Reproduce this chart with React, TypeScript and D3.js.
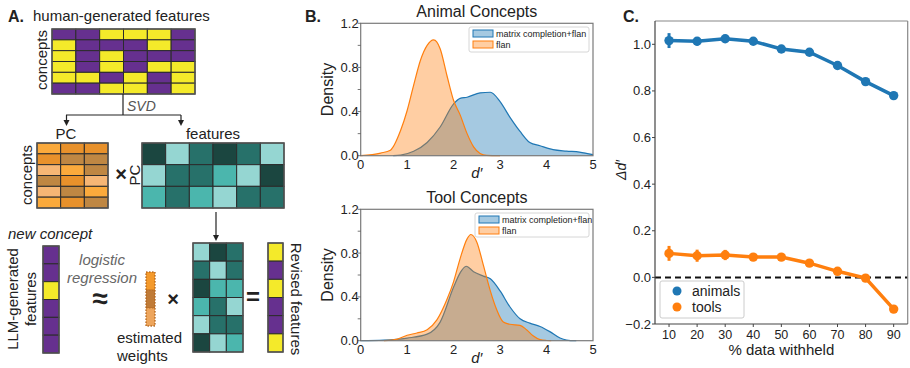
import React from "react";
import * as d3 from "d3";

// ---------- Panel A data ----------
const humanMatrix = ["PPYYYP", "YPPPYP", "YPYPPP", "YPYPYY", "YYPYPY", "PPYYPY"];
const pcMatrix = ["abb", "bcc", "dac", "cbd", "dca", "abc"];
const featMatrix = ["031013", "311230", "212311"];
const featMatrixT = ["301", "131", "022", "213", "311", "032"];
const llmColumn = ["P", "P", "Y", "P", "P", "P"];
const weightColumn = ["e", "f", "g"];
const revisedColumn = ["Y", "P", "Y", "P", "P", "Y"];

// ---------- Panel B data ----------
const animalFlanX = [0, 0.43, 0.64, 0.86, 1.0, 1.14, 1.29, 1.43, 1.57, 1.71, 1.86, 2.0, 2.14, 2.29, 2.43, 2.57, 2.71, 3.0];
const animalFlanY = [0, 0.024, 0.05, 0.23, 0.41, 0.64, 0.87, 1.0, 1.05, 0.97, 0.72, 0.5, 0.37, 0.2, 0.08, 0.02, 0.003, 0];
const animalMcX = [0.7, 0.86, 1.14, 1.43, 1.71, 2.0, 2.14, 2.29, 2.57, 2.79, 3.0, 3.21, 3.43, 3.64, 3.86, 4.14, 4.43, 4.71, 5.0];
const animalMcY = [0, 0.005, 0.04, 0.12, 0.26, 0.47, 0.52, 0.53, 0.57, 0.575, 0.49, 0.35, 0.22, 0.12, 0.09, 0.055, 0.042, 0.033, 0.01];
const toolFlanX = [0.5, 0.79, 1.0, 1.21, 1.43, 1.64, 1.86, 2.0, 2.14, 2.29, 2.37, 2.5, 2.64, 2.79, 2.93, 3.07, 3.21, 3.43, 3.57, 3.71, 3.86, 4.0, 4.1];
const toolFlanY = [0, 0.015, 0.05, 0.07, 0.1, 0.19, 0.38, 0.54, 0.75, 0.93, 0.97, 0.9, 0.69, 0.455, 0.28, 0.17, 0.15, 0.14, 0.1, 0.045, 0.01, 0.002, 0];
const toolMcX = [0, 0.5, 1.0, 1.43, 1.71, 2.0, 2.14, 2.27, 2.43, 2.64, 2.79, 3.0, 3.21, 3.43, 3.64, 3.86, 4.07, 4.29, 4.43, 4.64];
const toolMcY = [0, 0.005, 0.024, 0.06, 0.17, 0.49, 0.62, 0.68, 0.63, 0.59, 0.565, 0.455, 0.31, 0.2, 0.16, 0.13, 0.083, 0.024, 0.006, 0];
const densityTicks = [0, 0.2, 0.4, 0.6, 0.8, 1.0, 1.2];
const densityLabels = ["0.0", "", "0.4", "", "0.8", "", "1.2"];
const dTicks = [0, 1, 2, 3, 4, 5];

// ---------- Panel C data ----------
const pctWithheld = ["10", "20", "30", "40", "50", "60", "70", "80", "90"];
const animalsMean = [1.016, 1.013, 1.024, 1.013, 0.98, 0.966, 0.909, 0.84, 0.78];
const animalsErr = [0.032, 0.018, 0.014, 0.01, 0.01, 0.01, 0.01, 0.01, 0.006];
const toolsMean = [0.103, 0.093, 0.096, 0.087, 0.087, 0.061, 0.026, -0.003, -0.136];
const toolsErr = [0.032, 0.026, 0.022, 0.012, 0.012, 0.01, 0.01, 0.01, 0.01];
const deltaTicks = [-0.2, 0, 0.2, 0.4, 0.6, 0.8, 1.0];

const FONT = "'Liberation Sans', Arial, Helvetica, sans-serif";
const BLUE = "#1f77b4";
const ORANGE = "#ff7f0e";

const colorMap: Record<string, string> = {
  P: "#66308f",
  Y: "#f4ea2a",
  a: "#fbaa3c",
  b: "#e8912b",
  c: "#bf8743",
  d: "#f6b675",
  "0": "#1b4640",
  "1": "#27716a",
  "2": "#4bb6ad",
  "3": "#95d6d2",
  e: "#f49a2c",
  f: "#c07b37",
  g: "#eda55c",
};

function Matrix({ rows, x0, y0, w, h, dashed }: { rows: string[]; x0: number; y0: number; w: number; h: number; dashed?: boolean }) {
  const nr = rows.length;
  const nc = rows[0].length;
  const xs = d3.scaleBand<number>().domain(d3.range(nc)).range([x0, x0 + w]);
  const ys = d3.scaleBand<number>().domain(d3.range(nr)).range([y0, y0 + h]);
  return (
    <g>
      {rows.map((r, i) =>
        r.split("").map((c, j) => (
          <rect
            key={`${i}-${j}`}
            x={xs(j)}
            y={ys(i)}
            width={xs.bandwidth()}
            height={ys.bandwidth()}
            fill={colorMap[c]}
            stroke={dashed ? "#b0631a" : "#2b2b2b"}
            strokeWidth={dashed ? 0.8 : 1}
            strokeDasharray={dashed ? "1.5,1.5" : undefined}
          />
        ))
      )}
      <rect x={x0} y={y0} width={w} height={h} fill="none" stroke={dashed ? "#b0631a" : "#555"} strokeWidth={dashed ? 0.8 : 1.4} strokeDasharray={dashed ? "1.5,1.5" : undefined} />
    </g>
  );
}

function Arrow({ x, y1, y2 }: { x: number; y1: number; y2: number }) {
  return (
    <g>
      <line x1={x} y1={y1} x2={x} y2={y2 - 4} stroke="#222" strokeWidth={1.2} />
      <path d={`M${x - 3},${y2 - 6} L${x + 3},${y2 - 6} L${x},${y2} Z`} fill="#222" />
    </g>
  );
}

function PanelA() {
  return (
    <g fontFamily={FONT} fill="#222">
      <text x={8} y={22} fontSize={16} fontWeight="bold">A.</text>
      <text x={33} y={21} fontSize={15}>human-generated features</text>
      <text transform="translate(47,60) rotate(-90)" textAnchor="middle" fontSize={15}>concepts</text>
      <Matrix rows={humanMatrix} x0={52} y0={29} w={143} h={65} />
      {/* SVD connector */}
      <line x1={123} y1={94} x2={123} y2={115} stroke="#222" strokeWidth={1.2} />
      <line x1={66} y1={115} x2={181} y2={115} stroke="#222" strokeWidth={1.2} />
      <Arrow x={66.5} y1={115} y2={126} />
      <Arrow x={181} y1={115} y2={126} />
      <text x={127} y={111} fontSize={14} fontStyle="italic" fill="#555">SVD</text>

      <text x={66} y={139} fontSize={15} textAnchor="middle">PC</text>
      <text x={213} y={139} fontSize={15} textAnchor="middle">features</text>
      <text transform="translate(32,175) rotate(-90)" textAnchor="middle" fontSize={15}>concepts</text>
      <Matrix rows={pcMatrix} x0={37} y0={143} w={71} h={65} />
      <text x={121} y={181} fontSize={20} textAnchor="middle" fontWeight="bold">×</text>
      <text transform="translate(140,175) rotate(-90)" textAnchor="middle" fontSize={15}>PC</text>
      <Matrix rows={featMatrix} x0={142} y0={143} w={142} h={65} />
      <Arrow x={216} y1={212} y2={241} />

      <text x={8} y={239} fontSize={15} fontStyle="italic">new concept</text>
      <text transform="translate(18,299) rotate(-90)" textAnchor="middle" fontSize={15}>LLM-generated</text>
      <text transform="translate(36,299) rotate(-90)" textAnchor="middle" fontSize={15}>features</text>
      <Matrix rows={llmColumn} x0={43} y0={246} w={16} h={107} />
      <text x={102} y={265} fontSize={15} fontStyle="italic" fill="#666" textAnchor="middle">logistic</text>
      <text x={102} y={283} fontSize={15} fontStyle="italic" fill="#666" textAnchor="middle">regression</text>
      <text x={100} y={308} fontSize={28} fontWeight="bold" textAnchor="middle">≈</text>
      <Matrix rows={weightColumn} x0={146} y0={272} w={9} h={54} dashed />
      <text x={117} y={343} fontSize={15}>estimated</text>
      <text x={117} y={361} fontSize={15}>weights</text>
      <text x={173} y={306} fontSize={20} fontWeight="bold" textAnchor="middle">×</text>
      <Matrix rows={featMatrixT} x0={193} y0={243} w={50} h={109} />
      <text x={253} y={305} fontSize={24} fontWeight="bold" textAnchor="middle">=</text>
      <Matrix rows={revisedColumn} x0={268} y0={243} w={15} h={109} />
      <text transform="translate(291,299) rotate(90)" textAnchor="middle" fontSize={15}>Revised features</text>
    </g>
  );
}

function DensityPlot({ top, bottom, title, flanX, flanY, mcX, mcY, legendBox }: {
  top: number; bottom: number; title: string;
  flanX: number[]; flanY: number[]; mcX: number[]; mcY: number[];
  legendBox: { x: number; y: number; w: number; h: number };
}) {
  const left = 360.7;
  const right = 593;
  const x = d3.scaleLinear().domain([0, 5]).range([left, right]);
  const y = d3.scaleLinear().domain([0, 1.2]).range([bottom, top]);
  const area = d3.area<[number, number]>().x((d) => x(d[0])).y0(y(0)).y1((d) => y(d[1])).curve(d3.curveMonotoneX);
  const line = d3.line<[number, number]>().x((d) => x(d[0])).y((d) => y(d[1])).curve(d3.curveMonotoneX);
  const flan = flanX.map((v, i) => [v, flanY[i]] as [number, number]);
  const mc = mcX.map((v, i) => [v, mcY[i]] as [number, number]);
  const lb = legendBox;
  return (
    <g fontFamily={FONT} fill="#222">
      <text x={(left + right) / 2} y={top - 6} fontSize={16} textAnchor="middle">{title}</text>
      <path d={area(mc) || ""} fill={BLUE} fillOpacity={0.4} />
      <path d={line(mc) || ""} fill="none" stroke={BLUE} strokeWidth={1.2} />
      <path d={area(flan) || ""} fill={ORANGE} fillOpacity={0.38} />
      <path d={line(flan) || ""} fill="none" stroke={ORANGE} strokeWidth={1.2} />
      <rect x={left} y={top} width={right - left} height={bottom - top} fill="none" stroke="#7a7a7a" strokeWidth={1.2} />
      {densityTicks.map((t, i) => (
        <g key={t}>
          <line x1={left - 3} x2={left} y1={y(t)} y2={y(t)} stroke="#555" strokeWidth={0.8} />
          {densityLabels[i] && (
            <text x={left - 2} y={y(t) + 4.5} fontSize={13} textAnchor="end">{densityLabels[i]}</text>
          )}
        </g>
      ))}
      {dTicks.map((t) => (
        <text key={t} x={x(t)} y={bottom + 13} fontSize={13} textAnchor="middle">{t}</text>
      ))}
      <text transform={`translate(333,${(top + bottom) / 2}) rotate(-90)`} fontSize={16} textAnchor="middle">Density</text>
      <text x={(left + right) / 2} y={bottom + 22} fontSize={15} fontStyle="italic" textAnchor="middle">d′</text>
      <rect x={lb.x} y={lb.y} width={lb.w} height={lb.h} fill="#fff" fillOpacity={0.85} stroke="#ccc" strokeWidth={0.8} rx={2} />
      <rect x={lb.x + 4} y={lb.y + 3} width={20} height={7} fill={BLUE} fillOpacity={0.4} stroke={BLUE} strokeWidth={1} />
      <text x={lb.x + 27} y={lb.y + 9.5} fontSize={9}>matrix completion+flan</text>
      <rect x={lb.x + 4} y={lb.y + 14} width={20} height={7} fill={ORANGE} fillOpacity={0.38} stroke={ORANGE} strokeWidth={1} />
      <text x={lb.x + 27} y={lb.y + 20.5} fontSize={9}>flan</text>
    </g>
  );
}

function PanelB() {
  return (
    <g>
      <text x={305} y={22} fontSize={16} fontWeight="bold" fontFamily={FONT} fill="#222">B.</text>
      <DensityPlot top={23.3} bottom={155.7} title="Animal Concepts" flanX={animalFlanX} flanY={animalFlanY} mcX={animalMcX} mcY={animalMcY} legendBox={{ x: 469, y: 27, w: 120, h: 25 }} />
      <DensityPlot top={209.3} bottom={340.7} title="Tool Concepts" flanX={toolFlanX} flanY={toolFlanY} mcX={toolMcX} mcY={toolMcY} legendBox={{ x: 475, y: 213, w: 114, h: 24 }} />
    </g>
  );
}

function PanelC() {
  const left = 655;
  const right = 907.7;
  const top = 21;
  const bottom = 324;
  const x = d3.scalePoint<string>().domain(pctWithheld).range([left, right]).padding(0.5);
  const y = d3.scaleLinear().domain([-0.2, 1.1]).range([bottom, top]);
  const line = d3.line<number>().x((_, i) => x(pctWithheld[i]) as number).y((d) => y(d));
  const series = [
    { mean: animalsMean, err: animalsErr, color: BLUE },
    { mean: toolsMean, err: toolsErr, color: ORANGE },
  ];
  return (
    <g fontFamily={FONT} fill="#222">
      <text x={623} y={22} fontSize={16} fontWeight="bold">C.</text>
      <line x1={left} x2={right} y1={y(0)} y2={y(0)} stroke="#111" strokeWidth={2} strokeDasharray="6,4" />
      {series.map((s, k) => (
        <g key={k}>
          <path d={line(s.mean) || ""} fill="none" stroke={s.color} strokeWidth={3.5} />
          {s.mean.map((m, i) => (
            <g key={i}>
              <line x1={x(pctWithheld[i])} x2={x(pctWithheld[i])} y1={y(m - s.err[i])} y2={y(m + s.err[i])} stroke={s.color} strokeWidth={3} />
              <circle cx={x(pctWithheld[i])} cy={y(m)} r={4.7} fill={s.color} />
            </g>
          ))}
        </g>
      ))}
      <line x1={left} x2={right} y1={top} y2={top} stroke="#888" strokeWidth={1.2} />
      <line x1={right} x2={right} y1={top} y2={bottom} stroke="#888" strokeWidth={1.2} />
      <line x1={left} x2={left} y1={top} y2={bottom} stroke="#444" strokeWidth={1.2} />
      <line x1={left} x2={right} y1={bottom} y2={bottom} stroke="#444" strokeWidth={1.2} />
      {deltaTicks.map((t) => (
        <g key={t}>
          <line x1={left - 3} x2={left} y1={y(t)} y2={y(t)} stroke="#444" strokeWidth={1} />
          <text x={left - 4} y={y(t) + 4.5} fontSize={13} textAnchor="end">{t === 0 ? "0.0" : d3.format(".1f")(t)}</text>
        </g>
      ))}
      {pctWithheld.map((p) => (
        <g key={p}>
          <line x1={x(p)} x2={x(p)} y1={bottom} y2={bottom + 3} stroke="#444" strokeWidth={1} />
          <text x={x(p)} y={bottom + 15} fontSize={12.5} textAnchor="middle">{p}</text>
        </g>
      ))}
      <text x={(left + right) / 2} y={355} fontSize={15} textAnchor="middle">% data withheld</text>
      <text transform={`translate(626,170) rotate(-90)`} fontSize={14} fontStyle="italic" textAnchor="middle">Δd′</text>
      <rect x={660} y={281} width={84} height={37} fill="#fff" stroke="#ccc" strokeWidth={1} rx={2} />
      <circle cx={677} cy={291} r={4.5} fill={BLUE} />
      <text x={692} y={295.5} fontSize={14}>animals</text>
      <circle cx={677} cy={307} r={4.5} fill={ORANGE} />
      <text x={692} y={311.5} fontSize={14}>tools</text>
    </g>
  );
}

export default function App() {
  return (
    <svg width={910} height={368} style={{ position: "absolute", left: 0, top: 0, background: "#fff" }}>
      <rect x={0} y={0} width={910} height={368} fill="#fff" />
      <PanelA />
      <PanelB />
      <PanelC />
    </svg>
  );
}
